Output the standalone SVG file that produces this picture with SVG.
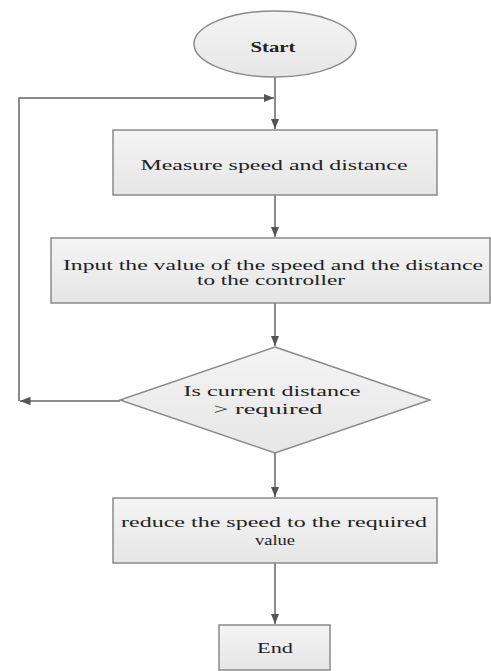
<svg xmlns="http://www.w3.org/2000/svg" width="491" height="671" viewBox="0 0 491 671">
<style>
.n{fill:url(#g);stroke:#8a8a8a;stroke-width:1.5}
.t{font-family:"Liberation Serif","Times New Roman",serif;font-size:14px;fill:#222;text-anchor:middle}
.c{stroke:#666;stroke-width:1.5;fill:none}
</style>
<defs>
<linearGradient id="g" x1="0" y1="0" x2="0" y2="1"><stop offset="0" stop-color="#f4f4f4"/><stop offset="1" stop-color="#e6e6e6"/></linearGradient>
<marker id="a" viewBox="0 0 10 10" refX="10" refY="5" markerWidth="7" markerHeight="7" orient="auto"><path d="M0,1 L10,5 L0,9 z" fill="#555"/></marker>
</defs>
<rect width="491" height="671" fill="#fff"/>
<g id="connectors">
<line class="c" x1="275" y1="77" x2="275" y2="129" marker-end="url(#a)"/>
<polyline class="c" points="19,401 19,98 274,98" marker-end="url(#a)"/>
<line class="c" x1="275" y1="195" x2="275" y2="237" marker-end="url(#a)"/>
<line class="c" x1="275" y1="303" x2="275" y2="346" marker-end="url(#a)"/>
<line class="c" x1="120" y1="401" x2="20" y2="401" marker-end="url(#a)"/>
<line class="c" x1="275" y1="453" x2="275" y2="497" marker-end="url(#a)"/>
<line class="c" x1="275" y1="563" x2="275" y2="624" marker-end="url(#a)"/>
</g>
<g id="start">
<ellipse class="n" cx="275" cy="44" rx="81" ry="33"/>
<text class="t" x="273" y="52" font-weight="bold" textLength="45" lengthAdjust="spacingAndGlyphs">Start</text>
</g>
<g id="measure">
<rect class="n" x="113" y="130" width="324" height="65"/>
<text class="t" x="274" y="170" textLength="267" lengthAdjust="spacingAndGlyphs">Measure speed and distance</text>
</g>
<g id="input">
<rect class="n" x="51" y="238" width="439" height="65"/>
<text class="t" x="273" y="270" textLength="420" lengthAdjust="spacingAndGlyphs">Input the value of the speed and the distance</text>
<text class="t" x="271" y="285" textLength="148" lengthAdjust="spacingAndGlyphs">to the controller</text>
</g>
<g id="decision">
<polygon class="n" points="275,347 430,400 275,453 120,400"/>
<text class="t" x="272" y="396" textLength="177" lengthAdjust="spacingAndGlyphs">Is current distance</text>
<text class="t" x="268" y="414" textLength="109" lengthAdjust="spacingAndGlyphs">&gt; required</text>
</g>
<g id="reduce">
<rect class="n" x="113" y="498" width="324" height="65"/>
<text class="t" x="274" y="527" textLength="306" lengthAdjust="spacingAndGlyphs">reduce the speed to the required</text>
<text class="t" x="275" y="545" textLength="40" lengthAdjust="spacingAndGlyphs">value</text>
</g>
<g id="end">
<rect class="n" x="219" y="625" width="111" height="45"/>
<text class="t" x="275" y="653" textLength="36" lengthAdjust="spacingAndGlyphs">End</text>
</g>
</svg>
